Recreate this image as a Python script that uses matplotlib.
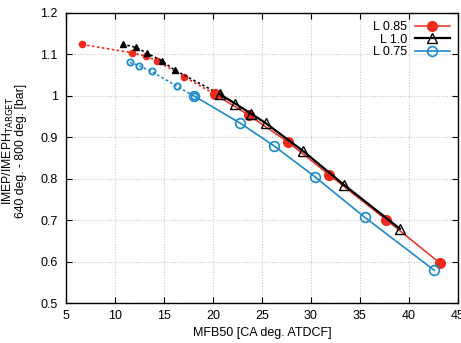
import matplotlib
matplotlib.use("Agg")
import matplotlib.pyplot as plt

plt.rcParams.update({"font.family": ["Liberation Sans", "DejaVu Sans"], "font.size": 9})

RED = "#ee2a1c"
BLACK = "#000000"
BLUE = "#1b8ac8"

# solid series (measured)
mfb_085 = [20.2, 23.7, 27.7, 31.9, 37.7, 43.2]
imep_085 = [1.004, 0.953, 0.888, 0.809, 0.701, 0.596]
mfb_10 = [20.7, 22.3, 23.9, 25.4, 29.2, 33.4, 39.1]
imep_10 = [1.004, 0.981, 0.957, 0.934, 0.867, 0.785, 0.679]
mfb_075 = [18.06, 22.8, 26.2, 30.4, 35.5, 42.6]
imep_075 = [1.000, 0.934, 0.880, 0.805, 0.707, 0.579]

# dotted extensions (small markers)
mfb_085_ext = [6.66, 11.73, 13.13, 14.25, 17.07, 20.2]
imep_085_ext = [1.124, 1.104, 1.096, 1.085, 1.046, 1.004]
mfb_10_ext = [10.78, 12.14, 13.3, 14.76, 16.12, 20.7]
imep_10_ext = [1.125, 1.117, 1.103, 1.085, 1.062, 1.004]
mfb_075_ext = [11.53, 12.42, 13.74, 16.33, 18.06]
imep_075_ext = [1.081, 1.073, 1.059, 1.023, 1.000]

fig = plt.figure(figsize=(4.61, 3.43), dpi=100)
ax = fig.add_axes([0.143, 0.1166, 0.850, 0.8455])

ax.plot(mfb_085_ext, imep_085_ext, ls=(0, (1.5, 1.5)), color=RED, lw=1.2,
        marker="o", ms=4.5, mfc=RED, mec=RED)
ax.plot(mfb_10_ext, imep_10_ext, ls=(0, (1.5, 1.5)), color=BLACK, lw=1.2,
        marker="^", ms=5, mfc=BLACK, mec=BLACK)
ax.plot(mfb_075_ext, imep_075_ext, ls=(0, (1.5, 1.5)), color=BLUE, lw=1.2,
        marker="o", ms=4.5, mfc="none", mec=BLUE, mew=1.3)

ax.plot(mfb_085, imep_085, color=RED, lw=1.1, marker="o", ms=7,
        mfc=RED, mec=RED, label="L 0.85")
ax.plot(mfb_10, imep_10, color=BLACK, lw=1.6, marker="^", ms=7,
        mfc="none", mec=BLACK, mew=1.0, label="L 1.0")
ax.plot(mfb_075, imep_075, color=BLUE, lw=1.2, marker="o", ms=7,
        mfc="none", mec=BLUE, mew=1.2, label="L 0.75")

ax.set_xlim(5, 45)
ax.set_ylim(0.5, 1.2)
ax.set_xticks(range(5, 50, 5))
ax.set_yticks([0.5, 0.6, 0.7, 0.8, 0.9, 1.0, 1.1, 1.2])
ax.set_yticklabels(["0.5", "0.6", "0.7", "0.8", "0.9", "1", "1.1", "1.2"])
ax.tick_params(direction="in", top=True, right=True, length=4)
ax.tick_params(axis="x", pad=5)
ax.tick_params(axis="y", pad=6)
ax.grid(True, color="#c8c8c8", ls=(0, (1, 1.5)), lw=0.8)
ax.set_axisbelow(True)
for s in ax.spines.values():
    s.set_linewidth(1.0)

ax.set_xlabel("MFB50 [CA deg. ATDCF]", labelpad=3.5)
ax.set_ylabel("IMEP/IMEPH$_{\\mathrm{TARGET}}$\n640 deg. - 800 deg. [bar]",
              linespacing=0.85, fontsize=8.8)
ax.yaxis.set_label_coords(-0.1, 0.526)

ax.legend(loc="upper right", frameon=False, markerfirst=False, handlelength=2.8,
          labelspacing=0.05, borderaxespad=0.25, handletextpad=0.6)

fig.savefig("out.png", dpi=100)
